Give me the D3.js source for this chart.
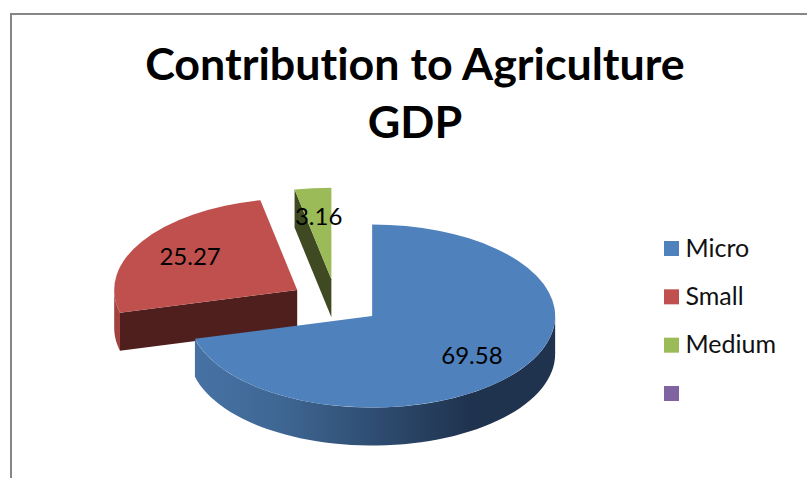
<!DOCTYPE html>
<html><head><meta charset="utf-8">
<script src="https://d3js.org/d3.v7.min.js"></script>
<style>html,body{margin:0;padding:0;background:#fff}svg{display:block}text{font-variant-ligatures:none}</style>
</head><body><svg id="c" width="807" height="478"></svg>
<script>
const titleLines = ["Contribution to Agriculture", "GDP"];
const categories = ["Micro", "Small", "Medium", ""];
const values = [69.58, 25.27, 3.16, null];
const topColors = ["#4f81bd", "#c0504d", "#9bbb59", "#8064a2"];
const cutColors = ["#274a70", "#4f1f1e", "#3f4a22", "#40305a"];
const rimColors = ["#3a5f8c", "#a2423f", "#76903f", "#5f4a7a"];

const FONT = "Lato, 'Open Sans', sans-serif";
const svg = d3.select("#c");
const W = 807, H = 478;

// Frame: top and left edges only, the rest is cropped away
svg.append("path").attr("d", `M11 ${H}V14H${W}`)
  .attr("fill", "none").attr("stroke", "#868686").attr("stroke-width", 2);

// Title
svg.append("g").selectAll("text").data(titleLines).join("text")
  .attr("x", 415).attr("y", (d, i) => 80 + i * 58)
  .attr("text-anchor", "middle").attr("font-family", FONT)
  .attr("font-weight", 700).attr("font-size", 44.8).attr("fill", "#000").text(d => d);

// Pie geometry
const cx = 336, cy = 302, rx = 183, ry = 91.5, depth = 38, explode = 0.25;
const tilt = ry / rx;
const pie = d3.pie().sort(null).value(d => d.value || 0);
const data = categories.map((c, i) => ({ name: c, value: values[i], i }));
const arcs = pie(data).filter(a => a.value > 0);
const arcGen = d3.arc().innerRadius(0).outerRadius(rx);
const PI = Math.PI;

const defs = svg.append("defs");
const grad = defs.append("linearGradient").attr("id", "rim0")
  .attr("gradientUnits", "userSpaceOnUse").attr("x1", 196).attr("x2", 470).attr("y1", 0).attr("y2", 0);
grad.append("stop").attr("offset", 0).attr("stop-color", "#4672a3");
grad.append("stop").attr("offset", 0.3).attr("stop-color", "#3f6794");
grad.append("stop").attr("offset", 1).attr("stop-color", "#1f334f");

arcs.forEach(a => {
  const mid = (a.startAngle + a.endAngle) / 2;
  a.cx = cx + explode * rx * Math.sin(mid);
  a.cy = cy - explode * ry * Math.cos(mid);
  a.pt = (t, r = 1, dy = 0) => [a.cx + r * rx * Math.sin(t), a.cy - r * ry * Math.cos(t) + dy];
});

// Back to front: last slice first so the big slice overlaps the others
const layers = svg.append("g").selectAll("g").data(arcs.slice().reverse()).join("g");
layers.each(function (a) {
  const g = d3.select(this);
  const line = d3.line();
  // Outer wall (only the part that faces the viewer)
  const s = Math.max(a.startAngle, PI / 2), e = Math.min(a.endAngle, 3 * PI / 2);
  if (e > s) {
    const ts = d3.range(0, 61).map(k => s + (e - s) * k / 60);
    const pts = ts.map(t => a.pt(t)).concat(ts.slice().reverse().map(t => a.pt(t, 1, depth)));
    g.append("path").attr("d", line(pts) + "Z")
      .attr("fill", a.data.i === 0 ? "url(#rim0)" : rimColors[a.data.i]);
  }
  // Cut face at the start angle
  if (a.startAngle > PI && a.startAngle < 2 * PI) {
    const p = [a.pt(0, 0), a.pt(a.startAngle), a.pt(a.startAngle, 1, depth), a.pt(0, 0, depth)];
    g.append("path").attr("d", line(p) + "Z").attr("fill", cutColors[a.data.i]);
  }
  // Top face
  g.append("path").attr("d", arcGen(a))
    .attr("transform", `translate(${a.cx},${a.cy}) scale(1,${tilt})`)
    .attr("fill", topColors[a.data.i]);
});

// Data labels
svg.append("g").selectAll("text").data(arcs).join("text")
  .attr("x", a => a.pt((a.startAngle + a.endAngle) / 2, 0.69)[0])
  .attr("y", a => a.pt((a.startAngle + a.endAngle) / 2, 0.69)[1] + 9)
  .attr("text-anchor", "middle").attr("font-family", FONT)
  .attr("font-size", 24).attr("fill", "#000")
  .text(a => d3.format(".2f")(a.value));

// Legend
const ly = d3.scalePoint().domain(d3.range(categories.length)).range([248.5, 393.5]);
const leg = svg.append("g").selectAll("g").data(categories).join("g")
  .attr("transform", (d, i) => `translate(664,${ly(i)})`);
leg.append("rect").attr("x", 0).attr("y", -7.5).attr("width", 15).attr("height", 15)
  .attr("fill", (d, i) => topColors[i]);
leg.append("text").attr("x", 21.5).attr("y", 8).attr("font-family", FONT)
  .attr("font-size", 25).attr("fill", "#111").text(d => d);
</script></body></html>
